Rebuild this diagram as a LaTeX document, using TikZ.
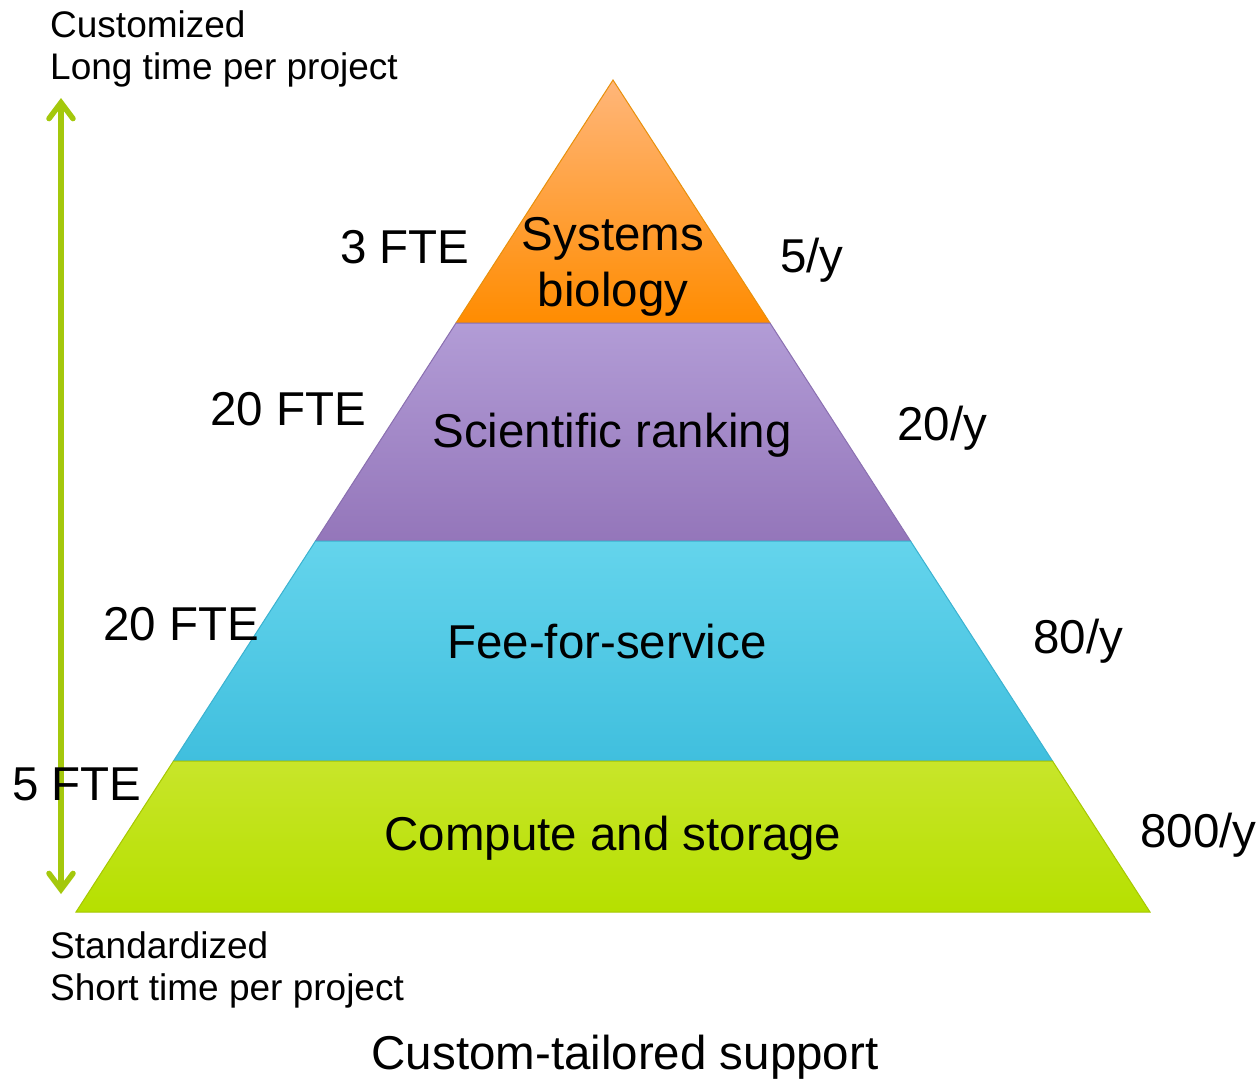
\documentclass[tikz,border=0pt]{standalone}
\usepackage{fontspec}
\setmainfont{Liberation Sans}
\usetikzlibrary{arrows.meta}
\definecolor{orT}{HTML}{FFB67A}
\definecolor{orB}{HTML}{FF8C00}
\definecolor{orE}{HTML}{E8900A}
\definecolor{puT}{HTML}{B29CD6}
\definecolor{puB}{HTML}{9476BA}
\definecolor{puE}{HTML}{8A6FB0}
\definecolor{cyT}{HTML}{64D4EC}
\definecolor{cyB}{HTML}{40BFDE}
\definecolor{cyE}{HTML}{3AB2D0}
\definecolor{grT}{HTML}{C8E52A}
\definecolor{grB}{HTML}{B6E000}
\definecolor{grE}{HTML}{A6C800}
\definecolor{arr}{HTML}{A4C80C}
\tikzset{
  big/.style={inner sep=0pt, font=\fontsize{47.5}{52}\selectfont},
  small/.style={inner sep=0pt, font=\fontsize{37}{41}\selectfont},
  layer/.style={line width=1pt},
  barbtip/.tip={Straight Barb[length=16pt,width=24pt,line width=5.5pt,line cap=round]},
}
\begin{document}
\begin{tikzpicture}[x=1pt,y=-1pt]
\useasboundingbox[fill=white] (0,0) rectangle (1258,1080);
% pyramid corner coordinates
\coordinate (apex) at (613,80);
\coordinate (l1) at (456,323);   \coordinate (r1) at (770,323);
\coordinate (l2) at (315.5,541); \coordinate (r2) at (910.5,541);
\coordinate (l3) at (173.5,761); \coordinate (r3) at (1052.5,761);
\coordinate (l4) at (76,912);    \coordinate (r4) at (1150,912);
% layers
\draw[layer, draw=orE, top color=orT, bottom color=orB] (apex) -- (r1) -- (l1) -- cycle;
\draw[layer, draw=puE, top color=puT, bottom color=puB] (l1) -- (r1) -- (r2) -- (l2) -- cycle;
\draw[layer, draw=cyE, top color=cyT, bottom color=cyB] (l2) -- (r2) -- (r3) -- (l3) -- cycle;
\draw[layer, draw=grE, top color=grT, bottom color=grB] (l3) -- (r3) -- (r4) -- (l4) -- cycle;
% arrow
\coordinate (atop) at (61,98);
\coordinate (abot) at (61,894);
\draw[arr, line width=5.5pt, line cap=round, barbtip-barbtip] (atop) -- (abot);
% corner labels
\node[small, anchor=base west] (cust) at (50,37) {Customized};
\node[small, anchor=base west] (long) at (50,79) {Long time per project};
\node[small, anchor=base west] (std) at (50,958) {Standardized};
\node[small, anchor=base west] (short) at (50,1000) {Short time per project};
\node[big, anchor=base] (cts) at (625,1069) {Custom-tailored support};
% layer labels
\node[big, anchor=base] (sys1) at (613,250) {Systems};
\node[big, anchor=base] (sys2) at (613,306) {biology};
\node[big, anchor=base] (sci) at (612,447) {Scientific ranking};
\node[big, anchor=base] (fee) at (607,658) {Fee-for-service};
\node[big, anchor=base] (cmp) at (613,850) {Compute and storage};
% FTE labels
\node[big, anchor=base west] (f1) at (340,263) {3 FTE};
\node[big, anchor=base west] (f2) at (210,425) {20 FTE};
\node[big, anchor=base west] (f3) at (103,640) {20 FTE};
\node[big, anchor=base west] (f4) at (12,800) {5 FTE};
% rate labels
\node[big, anchor=base west] (y1) at (780,272) {5/y};
\node[big, anchor=base west] (y2) at (897,440) {20/y};
\node[big, anchor=base west] (y3) at (1033,653) {80/y};
\node[big, anchor=base west] (y4) at (1140,847) {800/y};
\end{tikzpicture}
\end{document}
